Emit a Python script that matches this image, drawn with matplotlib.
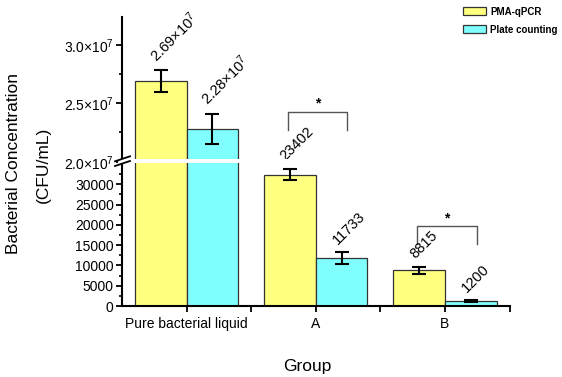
import matplotlib
matplotlib.use('Agg')
import matplotlib.pyplot as plt
import numpy as np
from matplotlib.patches import Rectangle, Patch
from matplotlib.lines import Line2D
from matplotlib.ticker import FixedLocator

plt.rcParams['font.family'] = ['Liberation Sans', 'DejaVu Sans']
plt.rcParams['mathtext.fontset'] = 'custom'
plt.rcParams['mathtext.rm'] = 'Liberation Sans'
plt.rcParams['mathtext.it'] = 'Liberation Sans:italic'
plt.rcParams['mathtext.bf'] = 'Liberation Sans:bold'

# Data
groups = ['Pure bacterial liquid', 'A', 'B']
pma = [2.69e7, 32400, 8800]
pma_err = [0.09e7, 1400, 900]
plate = [2.28e7, 11733, 1200]
plate_err = [0.13e7, 1500, 200]
pma_labels = [r'2.69×10$^7$', '23402', '8815']
plate_labels = [r'2.28×10$^7$', '11733', '1200']
series_names = ['PMA-qPCR', 'Plate counting']

lo_ticks = [0, 5000, 10000, 15000, 20000, 25000, 30000]
hi_ticks = [2.0e7, 2.5e7, 3.0e7]
hi_ticklabels = [r'2.0×10$^7$', r'2.5×10$^7$', r'3.0×10$^7$']

yellow = '#FFFF80'
cyan = '#80FFFF'

W, H = 562, 377
fig = plt.figure(figsize=(W / 100, H / 100), dpi=100)


def fx(px):
    return px / W


def fy(py):
    return 1 - py / H


left, right = 122, 509.5
y0, ybrk, ytop = 306, 161.7, 17
ax_lo = fig.add_axes([fx(left), fy(y0), fx(right) - fx(left), (y0 - ybrk) / H])
ax_hi = fig.add_axes([fx(left), fy(ybrk), fx(right) - fx(left), (ybrk - ytop) / H])

x = np.arange(len(groups))
w = 0.4
for ax in (ax_lo, ax_hi):
    ax.patch.set_visible(False)
    ax.bar(x - w / 2, pma, w, color=yellow, edgecolor='#333333', linewidth=0.9)
    ax.bar(x + w / 2, plate, w, color=cyan, edgecolor='#333333', linewidth=0.9)
    ax.errorbar(x - w / 2, pma, yerr=pma_err, fmt='none', ecolor='black',
                capsize=5, elinewidth=1.5, capthick=1.5)
    ax.errorbar(x + w / 2, plate, yerr=plate_err, fmt='none', ecolor='black',
                capsize=5, elinewidth=1.5, capthick=1.5)
    ax.set_xlim(-0.5, 2.5)
    ax.spines['right'].set_visible(False)
    for s in ('left', 'bottom'):
        ax.spines[s].set_linewidth(1.5)
    ax.tick_params(axis='y', direction='out', length=4, width=1.3, labelsize=10, pad=2)
    ax.tick_params(axis='y', which='minor', direction='out', length=2.5, width=1.2)

ax_lo.set_ylim(0, (y0 - ybrk) / 4.057 * 1000)
ax_hi.set_ylim(2.0e7, 2.0e7 + (ybrk - ytop) / 117 * 1e7)

ax_lo.spines['top'].set_visible(False)
ax_hi.spines['top'].set_visible(False)
ax_hi.spines['bottom'].set_visible(False)
ax_hi.set_xticks([])

ax_lo.set_yticks(lo_ticks)
ax_lo.yaxis.set_minor_locator(FixedLocator(np.arange(2500, 35000, 5000)))
ax_hi.set_yticks(hi_ticks)
ax_hi.set_yticklabels(hi_ticklabels)
ax_hi.yaxis.set_minor_locator(FixedLocator([2.25e7, 2.75e7]))

ax_lo.set_xticks(x)
ax_lo.set_xticklabels(groups)
ax_lo.xaxis.set_minor_locator(FixedLocator([0.5, 1.5, 2.5]))
ax_lo.tick_params(axis='x', which='both', direction='out', length=4, width=1.3,
                  labelsize=10, pad=4)

# value labels, rotated
for vals, errs, labs, dx in ((pma, pma_err, pma_labels, -w / 2),
                             (plate, plate_err, plate_labels, w / 2)):
    for i, (v, e, lab) in enumerate(zip(vals, errs, labs)):
        ax = ax_hi if v > 1e6 else ax_lo
        ax.annotate(lab, (i + dx, v + e), xytext=(-1.5, 4), textcoords='offset points',
                    rotation=45, rotation_mode='anchor', ha='left', va='bottom',
                    fontsize=10.5, annotation_clip=False)

# significance brackets
def bracket(ax, xc, ytop_, yleg):
    xa, xb = xc - 0.215, xc + 0.245
    ax.plot([xa, xa, xb, xb], [yleg, ytop_, ytop_, yleg], color='#555555',
            lw=1.0, clip_on=False)
    ax.annotate('*', ((xa + xb) / 2, ytop_), xytext=(0, 1), textcoords='offset points',
                ha='center', va='bottom', fontsize=10, fontweight='bold',
                annotation_clip=False)

bracket(ax_hi, 1, 2.425e7, 2.27e7)
bracket(ax_lo, 2, 19600, 15300)

# axis break: white gap and slashes
fig.patches.append(Rectangle((fx(118), fy(163.3)), fx(right) - fx(118), 4.6 / H,
                             transform=fig.transFigure, facecolor='white',
                             edgecolor='none', zorder=5))
for yb in (163.5, 158.8):
    fig.lines.append(Line2D([fx(115), fx(130)], [fy(yb + 2.5), fy(yb - 2.5)],
                            transform=fig.transFigure, color='black', lw=1.3,
                            zorder=6))

# axis titles
fig.text(fx(14), fy(164), 'Bacterial Concentration', rotation=90,
         ha='center', va='center', fontsize=12.5)
fig.text(fx(43), fy(165), '(CFU/mL)', rotation=90,
         ha='center', va='center', fontsize=12.5)
fig.text(fx(307), fy(366), 'Group', ha='center', va='center', fontsize=12.5)

handles = [Patch(facecolor=yellow, edgecolor='#333333', linewidth=0.9),
           Patch(facecolor=cyan, edgecolor='#333333', linewidth=0.9)]
fig.legend(handles, series_names, loc='upper left', bbox_to_anchor=(fx(455), fy(-1)),
           frameon=False, prop={'size': 7, 'weight': 'bold'}, handlelength=2.4,
           handleheight=0.9, handletextpad=0.4, labelspacing=0.8, borderpad=0.3)

fig.savefig('out.png', dpi=100)
